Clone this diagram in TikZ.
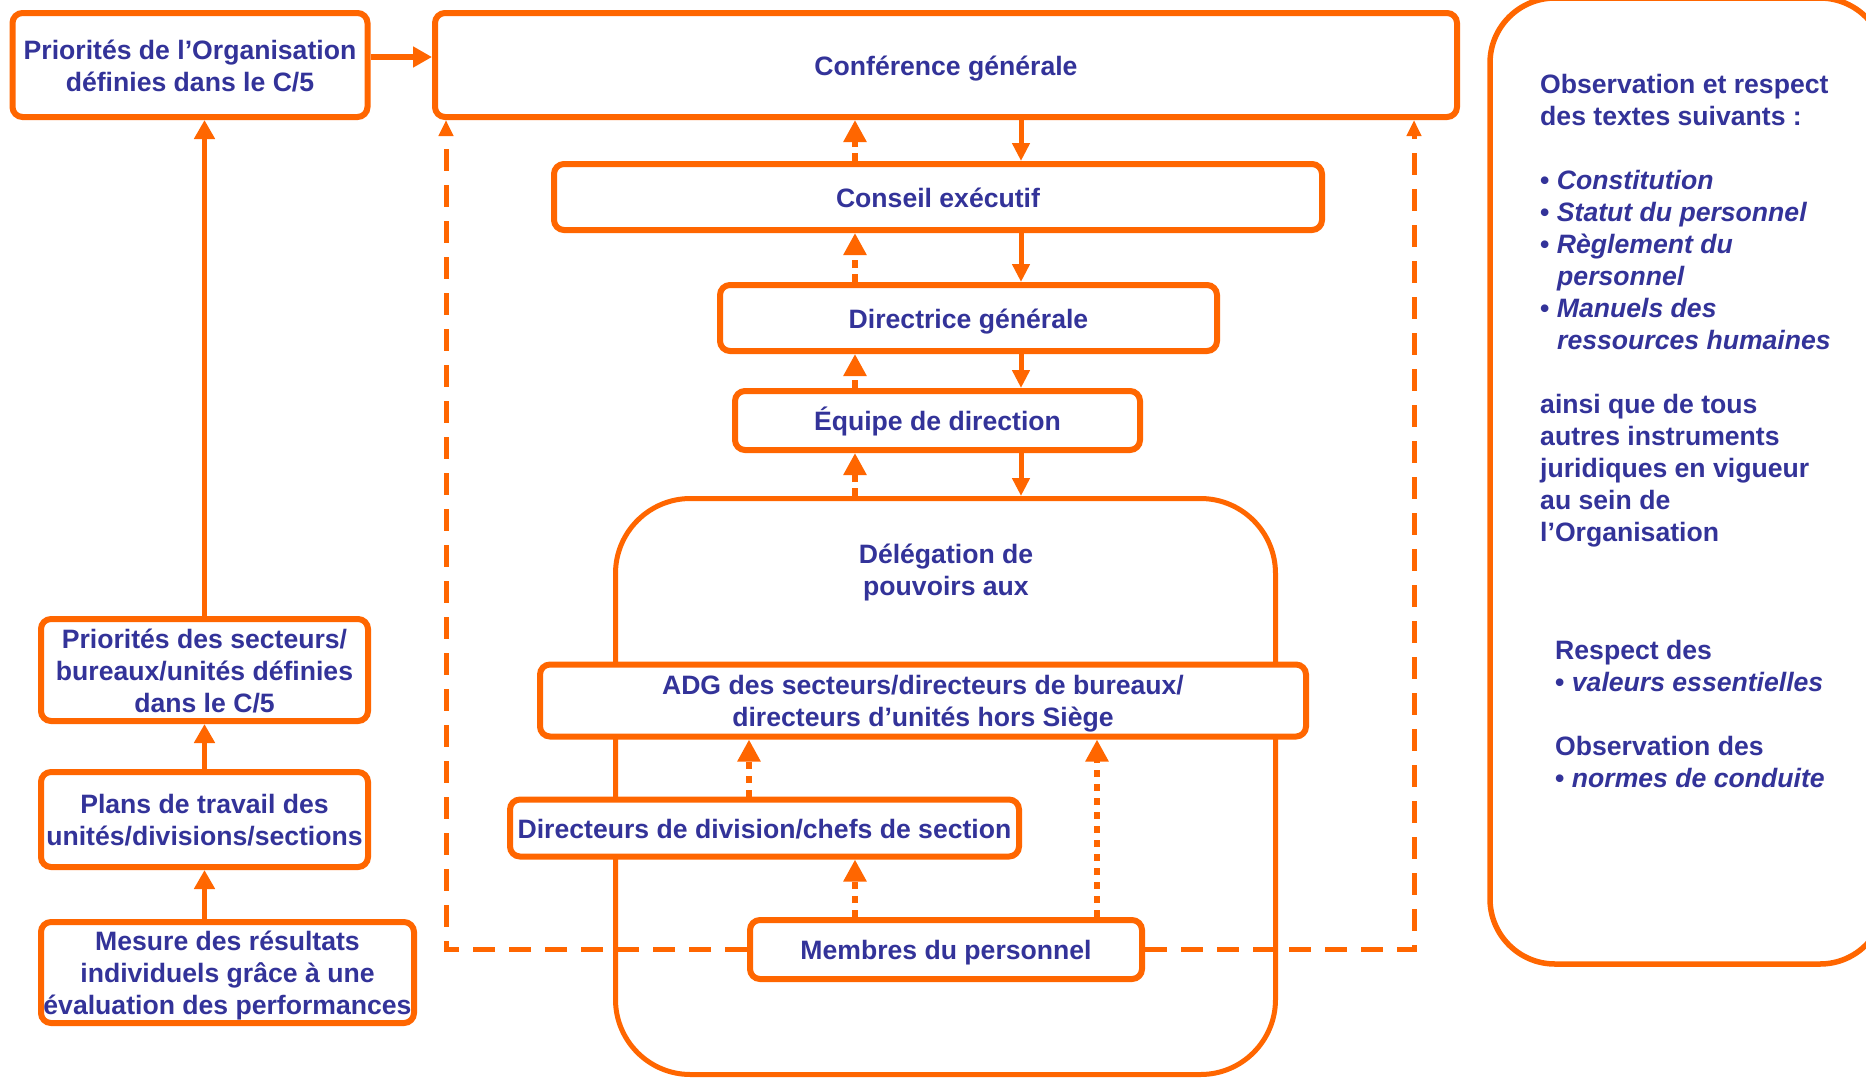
\documentclass[tikz,border=0pt]{standalone}
\usepackage{fontspec}
\setmainfont{Liberation Sans}
\usetikzlibrary{arrows.meta}
\definecolor{orng}{HTML}{FF6600}
\definecolor{txtblue}{HTML}{333399}
\begin{document}
\begin{tikzpicture}[x=1pt,y=-1pt,
  every node/.style={font=\bfseries\fontsize{26.6}{32}\selectfont, text=txtblue},
  box/.style={draw=orng, line width=6pt, rounded corners=10pt, fill=white, align=center, inner sep=0pt},
  lone/.style={text height=25.5pt, text depth=5.5pt},
  ltwo/.style={text height=57.5pt, text depth=5.5pt},
  lthree/.style={text height=89.5pt, text depth=5.5pt},
  solidup/.style={draw=orng, line width=5.5pt, -{Triangle[width=20pt,length=19pt]}},
  dashup/.style={draw=orng, line width=6pt, dash pattern=on 8pt off 6pt, -{Triangle[width=22pt,length=22pt]}},
  downarr/.style={draw=orng, line width=5pt, -{Triangle[width=17pt,length=18pt]}},
  dotup/.style={draw=orng, line width=6pt, dash pattern=on 7pt off 7pt, -{Triangle[width=22pt,length=22pt]}},
  frame/.style={draw=orng, line width=5pt, dash pattern=on 22pt off 14pt, -{Triangle[width=14pt,length=16pt]}},
]
\useasboundingbox (0,0) rectangle (1866,1079);
\clip (0,0) rectangle (1866,1079);
\fill[white] (0,0) rectangle (1866,1079);

% right panel
\draw[orng, line width=5.5pt, rounded corners=65pt] (1490,-2) rectangle (1885,964);
\foreach \yy/\xx/\lintext [count=\i] in {
  93.5/1540/{Observation et respect},
  125.5/1540/{des textes suivants :},
  189.5/1540/{\textbullet\ \textit{Constitution}},
  221.5/1540/{\textbullet\ \textit{Statut du personnel}},
  253.5/1540/{\textbullet\ \textit{Règlement du}},
  285.5/1557/{\textit{personnel}},
  317.5/1540/{\textbullet\ \textit{Manuels des}},
  349.5/1557/{\textit{ressources humaines}},
  413.5/1540/{ainsi que de tous},
  445.5/1540/{autres instruments},
  477.5/1540/{juridiques en vigueur},
  509.5/1540/{au sein de},
  541.5/1540/{l’Organisation},
  659/1555/{Respect des},
  691/1555/{\textbullet\ \textit{valeurs essentielles}},
  755/1555/{Observation des},
  787/1555/{\textbullet\ \textit{normes de conduite}}}
  \node[anchor=base west, inner sep=0pt] (r\i) at (\xx,\yy) {\lintext};

% delegation shape
\node[draw=orng, line width=5pt, rounded corners=75pt, minimum width=660pt, minimum height=576pt, inner sep=0pt] (deleg) at (945.5,786.5) {};
\node[align=center, inner sep=0pt, ltwo] (delegtxt) at (946,569) {Délégation de\\pouvoirs aux};

% boxes
\node[box, ltwo, minimum width=355pt, minimum height=104pt] (org) at (190,65) {Priorités de l’Organisation\\définies dans le C/5};
\node[box, lone, minimum width=1022pt, minimum height=104pt] (conf) at (946,65) {Conférence générale};
\node[box, lone, minimum width=768pt, minimum height=66pt] (conseil) at (938,197) {Conseil exécutif};
\node[box, lone, minimum width=497pt, minimum height=66pt] (direc) at (968.5,318) {Directrice générale};
\node[box, lone, minimum width=405pt, minimum height=59pt] (equipe) at (937.5,420.5) {Équipe de direction};
\node[box, ltwo, minimum width=766pt, minimum height=72pt] (adg) at (923,700.5) {ADG des secteurs/directeurs de bureaux/\\directeurs d’unités hors Siège};
\node[box, lone, minimum width=509pt, minimum height=57pt] (divi) at (764.5,828) {Directeurs de division/chefs de section};
\node[box, lone, minimum width=392pt, minimum height=59pt] (membres) at (946,949.5) {Membres du personnel};
\node[box, lthree, minimum width=327pt, minimum height=102pt] (psect) at (204.5,670) {Priorités des secteurs/\\bureaux/unités définies\\dans le C/5};
\node[box, ltwo, minimum width=327pt, minimum height=95pt] (plans) at (204.5,819.5) {Plans de travail des\\unités/divisions/sections};
\node[box, lthree, minimum width=373pt, minimum height=101pt] (mesure) at (227.5,972.5) {Mesure des résultats\\individuels grâce à une\\évaluation des performances};

% helper coordinates
\coordinate (fl) at (446,950);
\coordinate (fr) at (1414,950);
\coordinate (ux) at (855,0);
\coordinate (dx) at (1021,0);
\coordinate (d1) at (749,0);
\coordinate (d2) at (1097,0);
\coordinate (oy) at (0,57);

% dashed frame
\draw[frame] (membres.west) -| (conf.south -| fl);
\draw[frame] (membres.east) -| (conf.south -| fr);

% up dashed arrows
\draw[dashup] (conseil.north -| ux) -- (conf.south -| ux);
\draw[dashup] (direc.north -| ux) -- (conseil.south -| ux);
\draw[dashup] (equipe.north -| ux) -- (direc.south -| ux);
\draw[dashup] (deleg.north -| ux) -- (equipe.south -| ux);

% down arrows
\draw[downarr] (conf.south -| dx) -- (conseil.north -| dx);
\draw[downarr] (conseil.south -| dx) -- (direc.north -| dx);
\draw[downarr] (direc.south -| dx) -- (equipe.north -| dx);
\draw[downarr] (equipe.south -| dx) -- (deleg.north -| dx);

% dotted arrows
\draw[dotup] (divi.north -| d1) -- (adg.south -| d1);
\draw[dotup] (membres.north -| ux) -- (divi.south -| ux);
\draw[dotup] (membres.north -| d2) -- (adg.south -| d2);

% left column
\draw[solidup] (psect.north) -- (psect.north |- org.south);
\draw[solidup] (plans.north) -- (plans.north |- psect.south);
\draw[solidup] (plans.south |- mesure.north) -- (plans.south);
\draw[solidup] (org.east |- oy) -- (conf.west |- oy);
\end{tikzpicture}
\end{document}
